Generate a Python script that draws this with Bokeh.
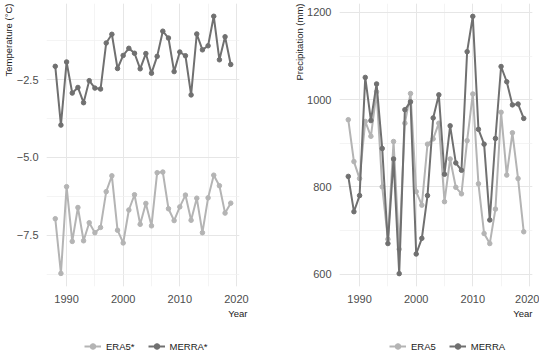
from bokeh.plotting import figure
from bokeh.layouts import row, column
from bokeh.models import SingleIntervalTicker, Legend, LegendItem, Range1d, Title
from bokeh.embed import file_html
from bokeh.resources import INLINE

years = list(range(1988, 2020))

temp_era5 = [-6.97, -8.73, -5.94, -7.70, -6.61, -7.68, -7.10, -7.42, -7.25, -6.10, -5.59, -7.34,
             -7.75, -6.69, -6.20, -7.15, -6.48, -7.20, -5.49, -5.47, -6.65, -7.03,
             -6.59, -6.21, -7.02, -6.31, -7.42, -6.30, -5.57, -5.91, -6.79, -6.47]
temp_merra = [-2.07, -3.96, -1.93, -2.93, -2.75, -3.24, -2.53, -2.77, -2.80, -1.32, -1.04, -2.14,
              -1.72, -1.49, -1.65, -2.15, -1.66, -2.29, -1.75, -0.94, -1.16, -2.24,
              -1.61, -1.73, -2.99, -1.03, -1.54, -1.41, -0.46, -1.86, -1.12, -2.01]

prec_era5 = [954, 858, 819, 950, 916, 1018, 800, 680, 904, 657, 946, 1014,
             789, 758, 898, 910, 946, 766, 864, 799, 784, 906,
             1013, 807, 693, 670, 749, 971, 827, 924, 819, 697]
prec_merra = [824, 743, 780, 1051, 952, 1036, 888, 670, 864, 601, 977, 995,
              646, 682, 780, 958, 1011, 829, 940, 855, 838, 1110,
              1191, 932, 898, 724, 911, 1076, 1041, 988, 990, 957]

temp_ticks = {-7.5: "\u22127.5", -5.0: "\u22125.0", -2.5: "\u22122.5"}

FONT = "Liberation Sans"
C_ERA = "#b4b4b4"
C_MERRA = "#707070"


def draw_series(p, era, merra):
    r1 = p.line(years, era, line_color=C_ERA, line_width=2)
    r1b = p.scatter(years, era, size=4.5, fill_color=C_ERA, line_color=C_ERA)
    r2 = p.line(years, merra, line_color=C_MERRA, line_width=2)
    r2b = p.scatter(years, merra, size=4.5, fill_color=C_MERRA, line_color=C_MERRA)
    return [r1, r1b], [r2, r2b]


def make_fig(ylo, yhi, yint, mbl, mbr, ylabel, era, merra, year_off, overrides=None):
    p = figure(frame_width=193, frame_height=283, x_range=Range1d(1986.45, 2020.55),
               y_range=Range1d(ylo, yhi), output_backend="svg", toolbar_location=None,
               min_border_left=mbl, min_border_right=mbr, min_border_top=3,
               min_border_bottom=30)
    p.outline_line_color = None
    p.background_fill_color = "white"
    p.xaxis.ticker = SingleIntervalTicker(interval=10, num_minor_ticks=2)
    p.yaxis.ticker = SingleIntervalTicker(interval=yint, num_minor_ticks=2)
    p.grid.grid_line_color = "#e6e6e6"
    p.grid.grid_line_width = 1
    p.grid.minor_grid_line_color = "#efefef"
    p.grid.minor_grid_line_width = 0.7
    for ax in (p.xaxis, p.yaxis):
        ax.axis_line_color = None
        ax.major_tick_line_color = None
        ax.minor_tick_line_color = None
        ax.major_label_text_font = FONT
        ax.major_label_text_font_size = "11px"
        ax.major_label_text_color = "#4d4d4d"
        ax.major_label_standoff = 2
    if overrides:
        p.yaxis.major_label_overrides = overrides

    draw_series(p, era, merra)

    yt = Title(text=ylabel, align="right", text_font=FONT, text_font_size="9.5px",
               text_font_style="normal", text_color="#1a1a1a", standoff=0, offset=0)
    p.add_layout(yt, "left")
    xt = Title(text="Year", align="right", text_font=FONT, text_font_size="9.5px",
               text_font_style="normal", text_color="#1a1a1a", standoff=0,
               offset=year_off)
    p.add_layout(xt, "below")
    return p


def make_legend_fig(width, names, era, merra, leg_x):
    # legend strip below a panel; its series lie outside this strip's ranges
    q = figure(width=width, height=36, x_range=Range1d(0, 1), y_range=Range1d(0, 1),
               output_backend="svg", toolbar_location=None,
               x_axis_location=None, y_axis_location=None, min_border=0)
    q.outline_line_color = None
    q.grid.visible = False
    ra, rm = draw_series(q, era, merra)
    leg = Legend(items=[LegendItem(label=names[0], renderers=ra),
                        LegendItem(label=names[1], renderers=rm)],
                 orientation="horizontal", location=(leg_x, 1),
                 label_text_font=FONT, label_text_font_size="9.5px",
                 label_text_color="#1a1a1a", glyph_width=17, glyph_height=14,
                 label_height=14, label_standoff=5, spacing=13, padding=2, margin=0,
                 border_line_color=None, background_fill_alpha=0)
    q.add_layout(leg, "center")
    return q


p1 = make_fig(-9.15, -0.05, 2.5, 40, 33, "Temperature (\u00b0C)",
              temp_era5, temp_merra, -8, temp_ticks)
p2 = make_fig(571.5, 1220.5, 200, 67, 7, "Precipitation (mm)",
              prec_era5, prec_merra, 0)
l1 = make_legend_fig(266, ["ERA5*", "MERRA*"], temp_era5, temp_merra, 84)
l2 = make_legend_fig(267, ["ERA5", "MERRA"], prec_era5, prec_merra, 123)

layout = column(row(p1, p2), row(l1, l2))
open("out.html", "w").write(file_html(layout, INLINE))
